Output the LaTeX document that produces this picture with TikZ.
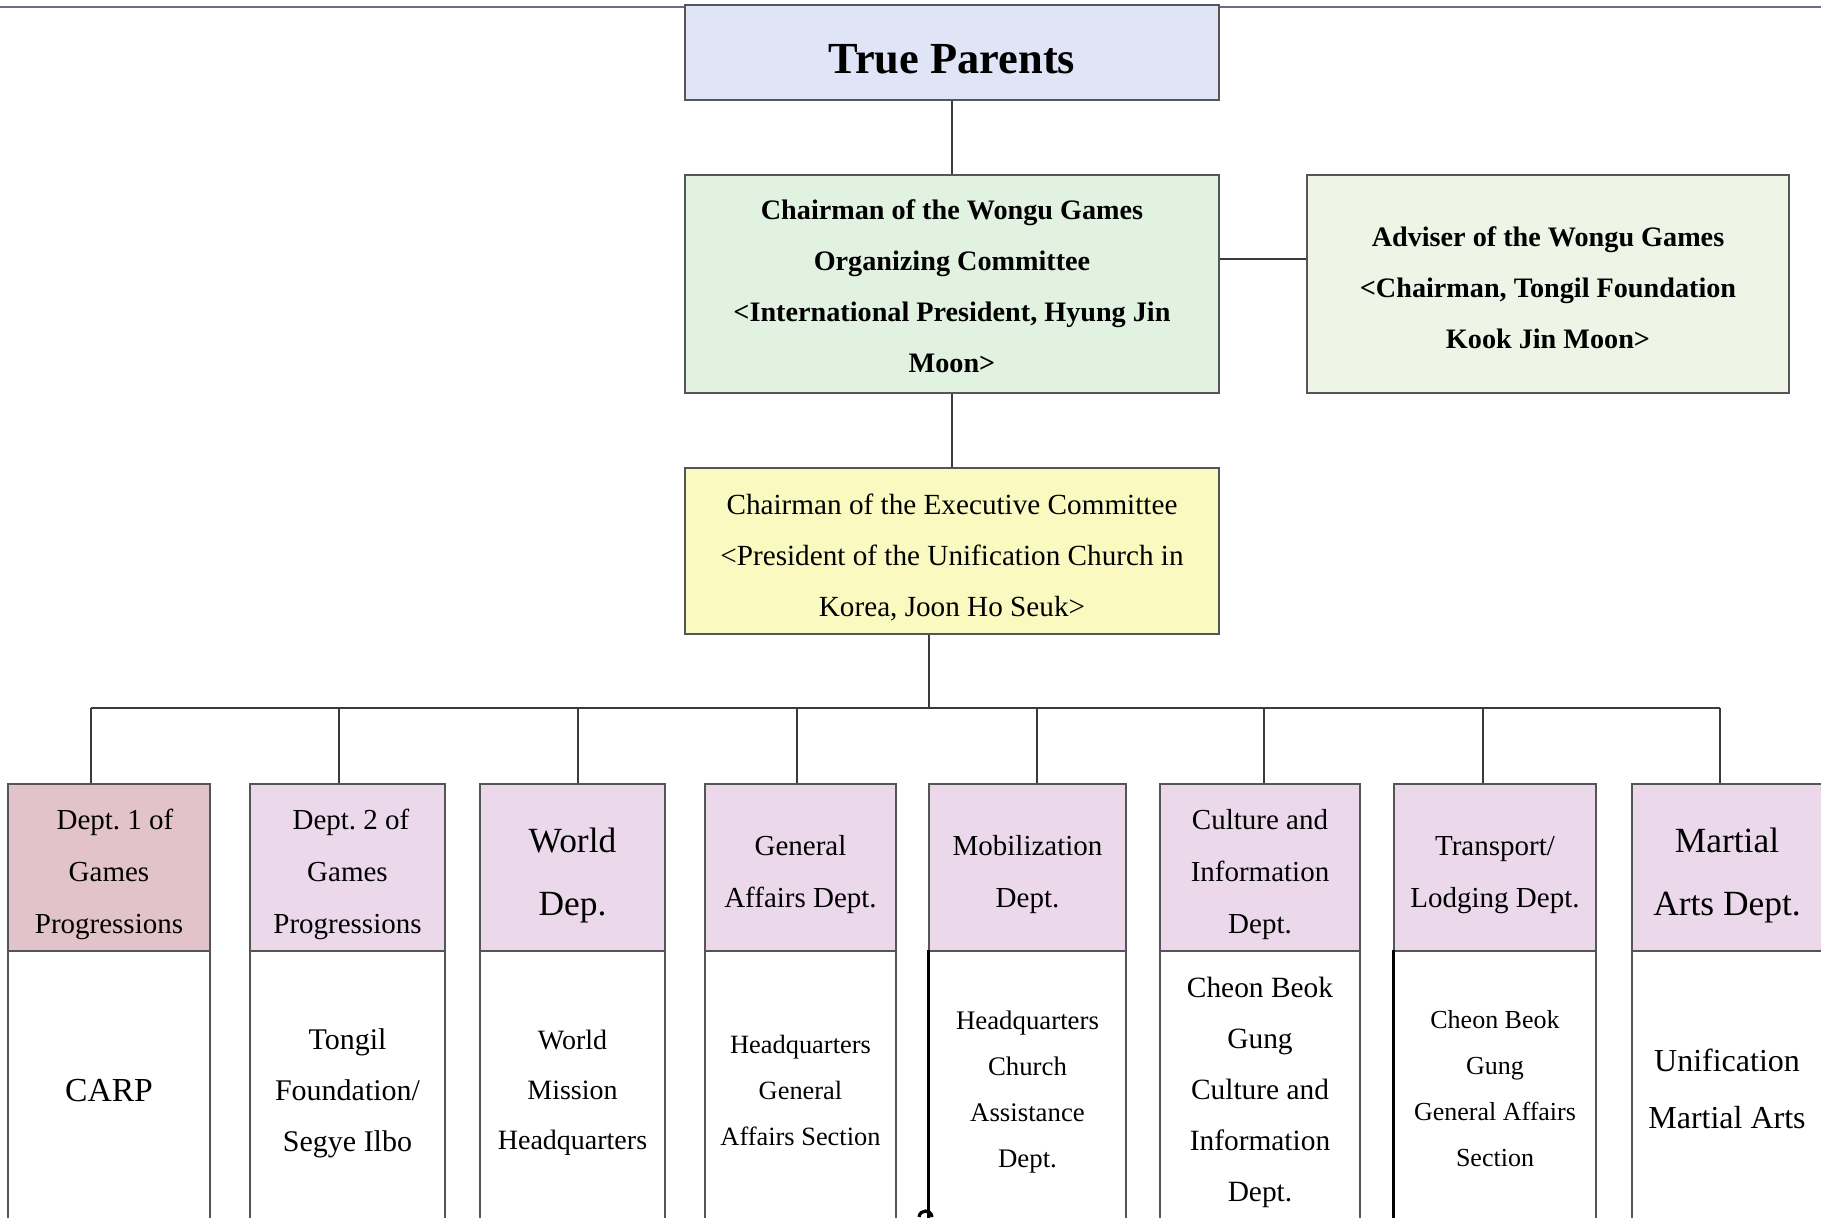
\documentclass[tikz,border=0pt]{standalone}
\usepackage{fontspec}
\setmainfont{Liberation Serif}
\frenchspacing
\definecolor{tpfill}{HTML}{DFE4F7}
\definecolor{chfill}{HTML}{E2F2E0}
\definecolor{advfill}{HTML}{EEF4E6}
\definecolor{exfill}{HTML}{FAF9C0}
\definecolor{dafill}{HTML}{E3C3CA}
\definecolor{dbfill}{HTML}{EBD9EB}
\definecolor{edge}{HTML}{555555}
\definecolor{wirec}{HTML}{3A3A3A}
\definecolor{topline}{HTML}{6B6B8C}
\begin{document}
\begin{tikzpicture}[x=0.5pt,y=-0.5pt,
  box/.style={draw=edge, line width=0.8pt, inner sep=0pt, rectangle},
  topbox/.style={box, minimum width=267pt},
  hd/.style={box, fill=dbfill, minimum height=83.5pt},
  lw/.style={box, fill=white, minimum height=139.5pt},
  txt/.style={inner sep=0pt, align=center},
  hdtxt/.style={txt, font=\fontsize{14.5}{26}\selectfont},
  hdbig/.style={txt, font=\fontsize{17.7}{31.5}\selectfont},
  bold/.style={txt, font=\bfseries\fontsize{14.1}{25.5}\selectfont},
  wire/.style={draw=wirec, line width=0.6pt}]
\useasboundingbox (0,0) rectangle (1821,1217);
% top rule
\coordinate (tl) at (0,7);
\coordinate (tr) at (1821,7);
\draw[topline, line width=0.7pt] (tl) -- (tr);
% top boxes
\node[topbox, fill=tpfill, minimum height=47.5pt] (tp) at (952,52.5) {};
\node[txt, font=\bfseries\fontsize{22.2}{26}\selectfont] (tpt) at ([yshift=-3.5pt]tp.center) {True Parents};
\node[topbox, fill=chfill, minimum height=109pt] (ch) at (952,284) {};
\node[bold] (cht) at ([yshift=-1.2pt]ch.center)
  {Chairman of the Wongu Games\\Organizing Committee\\<International President, Hyung Jin\\Moon>};
\node[box, fill=advfill, minimum width=241pt, minimum height=109pt] (adv) at (1548,284) {};
\node[bold] (advt) at ([yshift=-1.8pt]adv.center)
  {Adviser of the Wongu Games\\<Chairman, Tongil Foundation\\Kook Jin Moon>};
\node[topbox, fill=exfill, minimum height=83pt] (ex) at (952,551) {};
\node[txt, font=\fontsize{14.6}{25.5}\selectfont] (ext) at ([yshift=-3pt]ex.center)
  {Chairman of the Executive Committee\\<President of the Unification Church in\\Korea, Joon Ho Seuk>};
% department headers
\node[hd, fill=dafill, minimum width=101pt] (h1) at (109,867.5) {};
\node[hd, minimum width=97.5pt] (h2) at (347.5,867.5) {};
\node[hd, minimum width=92.5pt] (h3) at (572.5,867.5) {};
\node[hd, minimum width=95.5pt] (h4) at (800.5,867.5) {};
\node[hd, minimum width=98.5pt] (h5) at (1027.5,867.5) {};
\node[hd, minimum width=100pt] (h6) at (1260,867.5) {};
\node[hd, minimum width=101pt] (h7) at (1495,867.5) {};
\node[hd, minimum width=95pt] (h8) at (1727,867.5) {};
\node[hdtxt] (h1t) at ([yshift=-3.5pt]h1.center) {\hspace*{6pt}Dept. 1 of\\Games\\Progressions};
\node[hdtxt] (h2t) at ([yshift=-3.5pt]h2.center) {\hspace*{3.5pt}Dept. 2 of\\Games\\Progressions};
\node[hdbig] (h3t) at ([yshift=-4pt]h3.center) {World\\Dep.};
\node[hdtxt] (h4t) at ([yshift=-3.5pt]h4.center) {General\\Affairs Dept.};
\node[hdtxt] (h5t) at ([yshift=-3.5pt]h5.center) {Mobilization\\Dept.};
\node[hdtxt] (h6t) at ([yshift=-3.5pt]h6.center) {Culture and\\Information\\Dept.};
\node[hdtxt] (h7t) at ([yshift=-4pt]h7.center) {Transport/\\Lodging Dept.};
\node[hdbig] (h8t) at ([yshift=-4pt]h8.center) {Martial\\Arts Dept.};
% lower boxes
\node[lw, minimum width=101pt] (l1) at (109,1090.5) {};
\node[lw, minimum width=97.5pt] (l2) at (347.5,1090.5) {};
\node[lw, minimum width=92.5pt] (l3) at (572.5,1090.5) {};
\node[lw, minimum width=95.5pt] (l4) at (800.5,1090.5) {};
\node[lw, minimum width=98.5pt] (l5) at (1027.5,1090.5) {};
\node[lw, minimum width=100pt] (l6) at (1260,1090.5) {};
\node[lw, minimum width=101pt] (l7) at (1495,1090.5) {};
\node[lw, minimum width=95pt] (l8) at (1727,1090.5) {};
\node[txt, font=\fontsize{16.8}{28}\selectfont] (l1t) at (l1.center) {CARP};
\node[txt, font=\fontsize{15}{25.5}\selectfont] (l2t) at ([yshift=-1.2pt]l2.center) {Tongil\\Foundation/\\Segye Ilbo};
\node[txt, font=\fontsize{14}{25}\selectfont] (l3t) at ([yshift=-1.2pt]l3.center) {World\\Mission\\Headquarters};
\node[txt, font=\fontsize{13.2}{23}\selectfont] (l4t) at (l4.center) {Headquarters\\General\\Affairs Section};
\node[txt, font=\fontsize{13.4}{23}\selectfont] (l5t) at ([yshift=-0.6pt]l5.center) {Headquarters\\Church\\Assistance\\Dept.};
\node[txt, font=\fontsize{14.7}{25.5}\selectfont] (l6t) at ([yshift=-1.2pt]l6.center) {Cheon Beok\\Gung\\Culture and\\Information\\Dept.};
\node[txt, font=\fontsize{13}{23}\selectfont] (l7t) at ([yshift=1.2pt]l7.center) {Cheon Beok\\Gung\\General Affairs\\Section};
\node[txt, font=\fontsize{16}{28.5}\selectfont] (l8t) at ([yshift=0.6pt]l8.center) {Unification\\Martial Arts};
\draw[black, line width=1.5pt] (l5.north west) -- (l5.south west);
\draw[black, line width=1.5pt] (l7.north west) -- (l7.south west);
% connectors
\draw[wire] (tp.south) -- (ch.north);
\draw[wire] ([yshift=12.5pt]ch.east) -- ([yshift=12.5pt]adv.west);
\draw[wire] (ch.south) -- (ex.north);
\coordinate (bx) at (929,708);
\coordinate (b1) at (91,708);
\coordinate (b2) at (339,708);
\coordinate (b3) at (578,708);
\coordinate (b4) at (797,708);
\coordinate (b5) at (1037,708);
\coordinate (b6) at (1264,708);
\coordinate (b7) at (1483,708);
\coordinate (b8) at (1720,708);
\draw[wire] (ex.south -| bx) -- (bx);
\draw[wire] (b1) -- (b8);
\foreach \i in {1,...,8} { \draw[wire] (b\i) -- (b\i |- h\i.north); }
% small mark at bottom
\draw[black, line width=1.6pt] (919,1217) .. controls (920,1209) and (931,1209) .. (932,1217);
\end{tikzpicture}
\end{document}
